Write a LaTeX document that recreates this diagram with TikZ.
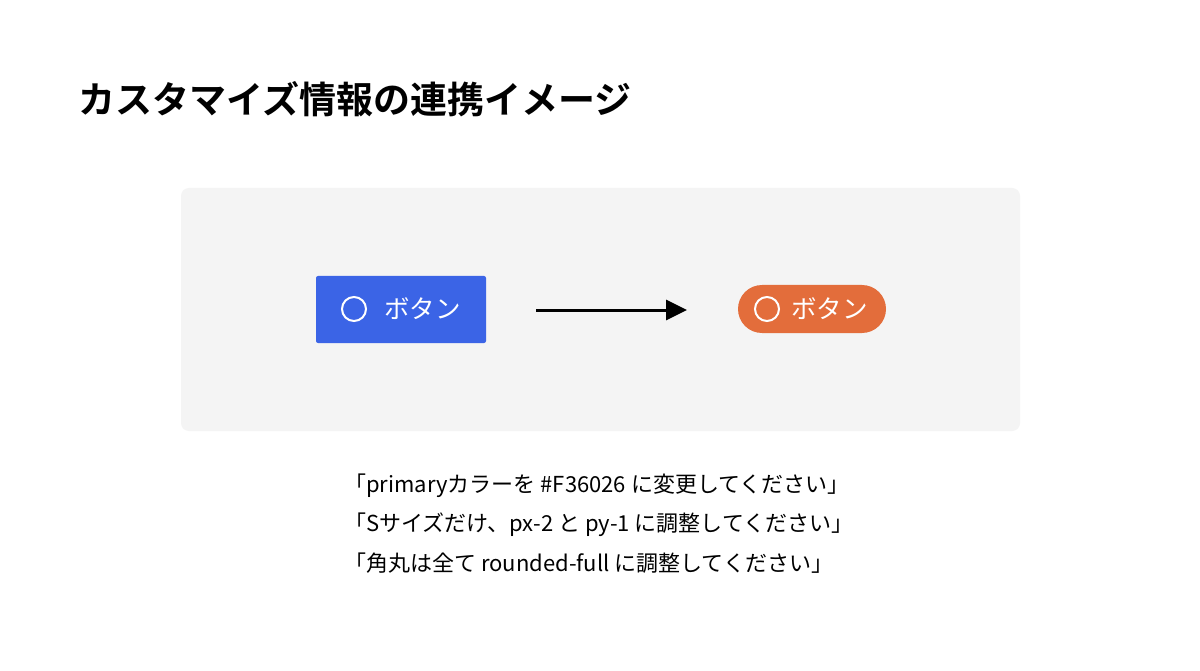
\documentclass[tikz,border=0pt]{standalone}
\usepackage{fontspec}
\usetikzlibrary{arrows.meta}
\setmainfont{Noto Sans CJK JP}
\newfontfamily\cjkbold{Noto Sans CJK JP Bold}
\definecolor{panelgray}{HTML}{F4F4F4}
\definecolor{btnblue}{HTML}{3B64E6}
\definecolor{btnorange}{HTML}{E36D3B}
\begin{document}
\begin{tikzpicture}[x=1pt,y=-1pt,
  btnlabel/.style={text=white,font=\fontsize{25.5}{25.5}\selectfont,inner sep=0pt,anchor=west},
  ring/.style={draw=white,line width=2pt,circle,minimum size=24pt,inner sep=0pt},
  bodytext/.style={font=\fontsize{22}{22}\selectfont,anchor=base west,inner sep=0pt}]
\useasboundingbox (0,0) rectangle (1200,671);
\fill[white] (0,0) rectangle (1200,671);
\node[anchor=base west,inner sep=0pt,font=\cjkbold\fontsize{37}{37}\selectfont] (title) at (78,114) {カスタマイズ情報の連携イメージ};
\fill[panelgray,rounded corners=8pt] (181,188) rectangle (1020,431);
\node[fill=btnblue,rounded corners=2pt,minimum width=170pt,minimum height=67pt,inner sep=0pt] (b1) at (401,309.5) {};
\node[ring] (c1) at (354,309) {};
\node[btnlabel] (t1) at (384,309) {ボタン};
\node[fill=btnorange,rounded corners=24pt,minimum width=148pt,minimum height=48pt,inner sep=0pt] (b2) at (812,309) {};
\node[ring] (c2) at (767,309) {};
\node[btnlabel] (t2) at (791,309) {ボタン};
\coordinate (a1) at (536,310);
\coordinate (a2) at (687,310);
\draw[line width=3pt,-{Triangle[length=21pt,width=20pt]}] (a1) -- (a2);
\node[bodytext] (l1) at (344,492) {「primaryカラーを \#F36026 に変更してください」};
\node[bodytext] (l2) at (344,531) {「Sサイズだけ、px-2 と py-1 に調整してください」};
\node[bodytext] (l3) at (344,571) {「角丸は全て rounded-full に調整してください」};
\end{tikzpicture}
\end{document}
